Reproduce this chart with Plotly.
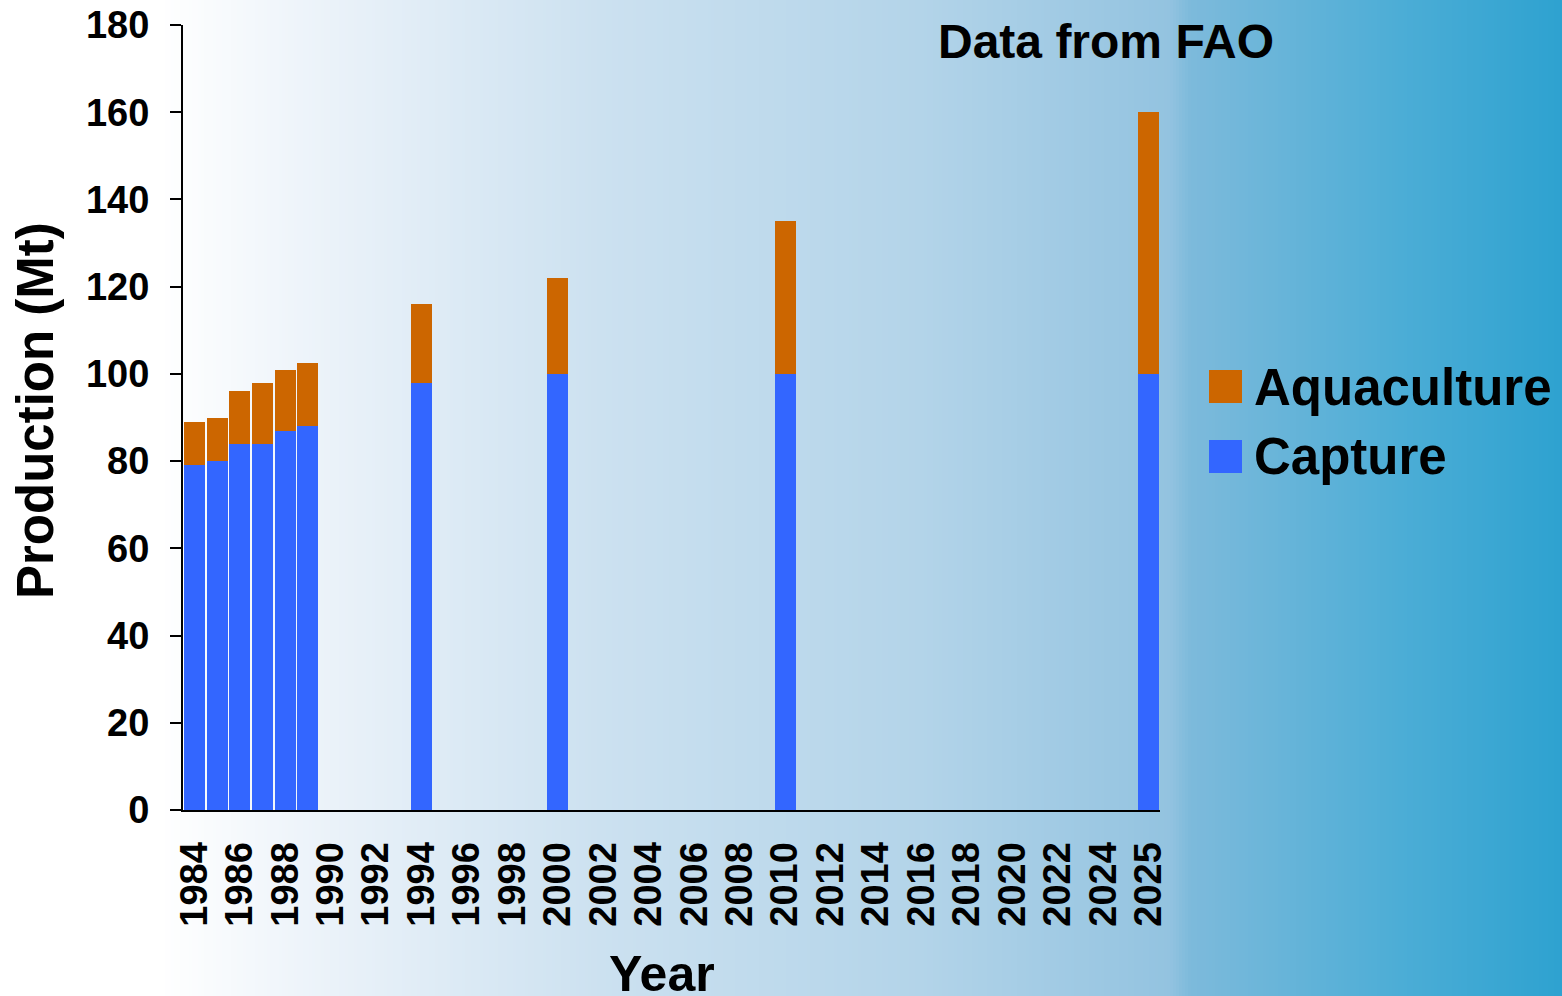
import plotly.graph_objects as go

# ---- data ----
year_slots = [str(y) for y in range(1984, 2025)] + [" ", "2025"]
years = ["1984", "1985", "1986", "1987", "1988", "1989", "1994", "2000", "2010", "2025"]
capture = [79, 80, 84, 84, 87, 88, 98, 100, 100, 100]
aquaculture = [10, 10, 12, 14, 14, 14.5, 18, 22, 35, 60]
tick_labels = year_slots[::2]

W, H = 1562, 996
L, R, T, B = 183, 1160, 25, 810


def px(x):
    return (x - L) / (R - L)


def py(y):
    return (B - y) / (B - T)


def hex2rgb(h):
    h = h.lstrip("#")
    return tuple(int(h[i:i + 2], 16) for i in (0, 2, 4))


stops = [(0, "#FFFFFF"), (160, "#FFFFFF"), (300, "#EEF4FA"), (600, "#CCE1F0"),
         (920, "#B3D4E9"), (1170, "#93C3E0"), (1190, "#7DBADB"),
         (1400, "#4CADD6"), (1562, "#2EA2D0")]


def color_at(x):
    for (x0, c0), (x1, c1) in zip(stops[:-1], stops[1:]):
        if x0 <= x <= x1:
            t = (x - x0) / (x1 - x0) if x1 > x0 else 0
            a, b = hex2rgb(c0), hex2rgb(c1)
            return "rgb(%d,%d,%d)" % tuple(round(a[i] + (b[i] - a[i]) * t) for i in range(3))
    return stops[-1][1]


shapes = []
step = 3
for x in range(0, W, step):
    shapes.append(dict(type="rect", xref="paper", yref="paper", layer="below",
                       x0=px(x), x1=px(x + step + 0.5), y0=py(H + 2), y1=py(-2),
                       fillcolor=color_at(x + step / 2), line=dict(width=0)))

# manual legend swatches
shapes.append(dict(type="rect", xref="paper", yref="paper", x0=px(1209), x1=px(1242),
                   y0=py(403), y1=py(370), fillcolor="#CC6600", line=dict(width=0)))
shapes.append(dict(type="rect", xref="paper", yref="paper", x0=px(1209), x1=px(1242),
                   y0=py(473), y1=py(440), fillcolor="#3366FF", line=dict(width=0)))

fig = go.Figure()
fig.add_trace(go.Bar(x=years, y=capture, name="Capture", marker=dict(color="#3366FF", line=dict(width=0))))
fig.add_trace(go.Bar(x=years, y=aquaculture, name="Aquaculture", marker=dict(color="#CC6600", line=dict(width=0))))

font_family = "Liberation Sans, Arial, sans-serif"

annotations = [
    dict(text="<b>Data from FAO</b>", xref="paper", yref="paper", x=px(1106), y=py(41),
         xanchor="center", yanchor="middle", showarrow=False, font=dict(size=48, color="black", family=font_family)),
    dict(text="<b>Aquaculture</b>", xref="paper", yref="paper", x=px(1252), y=py(387),
         xanchor="left", yanchor="middle", showarrow=False, font=dict(size=51, color="black", family=font_family)),
    dict(text="<b>Capture</b>", xref="paper", yref="paper", x=px(1252), y=py(456),
         xanchor="left", yanchor="middle", showarrow=False, font=dict(size=51, color="black", family=font_family)),
    dict(text="<b>Production (Mt)</b>", xref="paper", yref="paper", x=px(35), y=py(411),
         xanchor="center", yanchor="middle", textangle=-90, showarrow=False,
         font=dict(size=51, color="black", family=font_family)),
    dict(text="<b>Year</b>", xref="paper", yref="paper", x=px(662), y=py(944),
         xanchor="center", yanchor="top", showarrow=False, font=dict(size=50, color="black", family=font_family)),
]

fig.update_layout(
    width=W, height=H, autosize=False,
    margin=dict(l=L, r=W - R, t=T, b=H - B, pad=0, autoexpand=False),
    barmode="stack", bargap=0.076,
    paper_bgcolor="white", plot_bgcolor="rgba(0,0,0,0)",
    showlegend=False,
    shapes=shapes,
    annotations=annotations,
    font=dict(family=font_family, color="black"),
    xaxis=dict(type="category", categoryorder="array", categoryarray=year_slots,
               range=[-0.5, len(year_slots) - 0.5], automargin=False,
               tickmode="array", tickvals=tick_labels, ticktext=tick_labels,
               tickangle=-90, ticks="", showgrid=False, zeroline=False,
               showline=True, linecolor="black", linewidth=2,
               tickfont=dict(size=38, family=font_family, weight="bold", color="black"),
               ticklabelstandoff=15),
    yaxis=dict(range=[0, 180], dtick=20, tick0=0, ticks="outside", ticklen=11, tickwidth=2,
               tickcolor="black", showgrid=False, zeroline=False, automargin=False,
               showline=True, linecolor="black", linewidth=2,
               tickfont=dict(size=38, family=font_family, weight="bold", color="black"),
               ticklabelstandoff=13),
)

fig.write_html(
    "out.html",
    config={"displayModeBar": False},
    post_script="document.body.style.margin='0';document.body.style.padding='0';"
                "document.body.style.overflow='hidden';document.documentElement.style.overflow='hidden';",
)
